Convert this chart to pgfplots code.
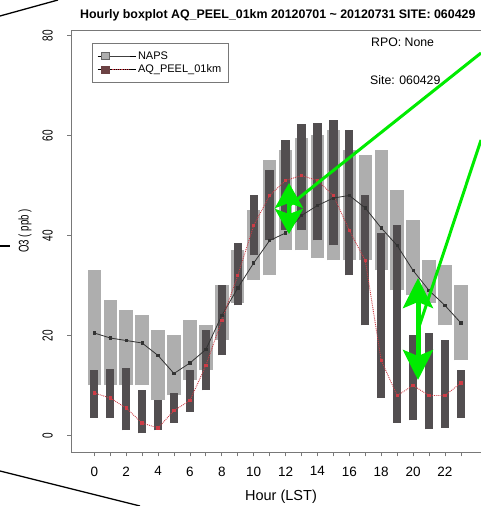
\documentclass[border=0pt]{standalone}
\usepackage{pgfplots}
\pgfplotsset{compat=1.18}
\usepackage{pgfplotstable}
\usepackage{fontspec}
\setmainfont{Liberation Sans}
\newfontfamily\rotfont{Liberation Sans}[FakeStretch=0.69]
\usetikzlibrary{arrows.meta}
\definecolor{boxgray}{RGB}{174,174,174}
\definecolor{boxdark}{RGB}{82,78,80}
\definecolor{medred}{RGB}{205,60,70}
\definecolor{framec}{RGB}{120,120,120}
\definecolor{arrgreen}{RGB}{0,235,0}

\pgfplotstableread{
h lo hi med
0 10 33 20.5
1 10 27 19.5
2 10 25 19
3 10 24 18.5
4 7 21 16
5 8 20 12.4
6 11 23 14.5
7 13 22 17.2
8 19 30 24
9 26.5 37 29.5
10 31 45 34.5
11 32 55 39
12 37 57 40.5
13 37 59.5 44
14 35.5 60 46
15 35 61 47.5
16 35 57 48
17 35 56 45.5
18 33 57 41.5
19 29 49 38
20 28 43 33
21 26.5 35 29
22 22 34 26
23 15 30 22.5
}\naps

\pgfplotstableread{
h lo hi med
0 3.5 13 8.5
1 3.5 13.3 7.5
2 1 13.5 5.5
3 0.4 9 2.5
4 1 7 1.5
5 2.5 8.5 5
6 4.7 13 7
7 9 21 14
8 16 30 23
9 26 38.5 32
10 36 48 42
11 39 53 48
12 41 59 51
13 41 62.3 52
14 39 62.4 51
15 38 63 48
16 32 61 41
17 22 48 35
18 7.5 40.5 15
19 2.5 42 8
20 3 20 10
21 1.2 20.5 8
22 1.5 19 8
23 3.5 13 10.5
}\model

\begin{document}
\begin{tikzpicture}[x=1pt,y=1pt]
\clip (0,0) rectangle (481,506);
\path[use as bounding box] (0,0) rectangle (481,506);
\begin{axis}[
  at={(71pt,53.5pt)}, anchor=south west,
  scale only axis, width=413.2pt, height=422.5pt,
  xmin=-1.46, xmax=24.46, ymin=-3.4, ymax=81.1,
  axis line style={framec, line width=0.8pt},
  tick pos=left, tick align=outside, major tick length=4pt,
  tick style={framec, line width=0.8pt},
  xtick={0,...,23},
  xticklabels={0,,2,,4,,6,,8,,10,,12,,14,,16,,18,,20,,22,},
  ytick={0,20,40,60,80}, yticklabels={0,20,40,60,80},
  xticklabel style={font=\fontsize{13.5}{14}\selectfont, inner sep=0pt, yshift=-10pt},
  yticklabel style={font=\rotfont\fontsize{14.5}{14}\selectfont, inner sep=0pt, xshift=-14pt, rotate=90, anchor=south},
  legend style={at={(axis description cs:0.0508,0.969)}, anchor=north west,
    draw=framec, line width=0.7pt, font=\fontsize{11}{12}\selectfont,
    inner xsep=5pt, inner ysep=6pt, row sep=0pt},
  legend cell align=left,
]
\addplot[forget plot, boxgray, line width=13.4pt, -,
  quiver={u=0, v=\thisrow{hi}-\thisrow{lo}}] table[x=h, y=lo]{\naps};
\addplot[forget plot, boxdark, line width=8.3pt, -,
  quiver={u=0, v=\thisrow{hi}-\thisrow{lo}}] table[x=h, y=lo]{\model};
\addplot[forget plot, black!80, line width=0.8pt, mark=square*, mark size=1.2pt] table[x=h, y=med]{\naps};
\addplot[forget plot, medred, densely dotted, line width=0.9pt, mark=square*, mark size=1.2pt, mark options={solid}] table[x=h, y=med]{\model};
\addlegendimage{legend image code/.code={
  \path (0pt,0pt) -- (38pt,0pt);
  \fill[boxgray, draw=black!60, line width=0.5pt] (4pt,-3.5pt) rectangle (12pt,3.5pt);
  \draw[black!75, line width=0.8pt] (12pt,0pt) -- (32pt,0pt);}}
\addlegendentry{NAPS}
\addlegendimage{legend image code/.code={
  \path (0pt,0pt) -- (38pt,0pt);
  \fill[boxdark!85!red] (4pt,-3.5pt) rectangle (12pt,3.5pt);
  \draw[medred, densely dotted, line width=0.8pt] (14pt,0pt) -- (32pt,0pt);}}
\addlegendentry{AQ\_PEEL\_01km}
\end{axis}
\node[anchor=west, font=\bfseries\fontsize{12.4}{13}\selectfont, inner sep=0pt] at (80,491) {Hourly boxplot AQ\_PEEL\_01km 20120701 \textasciitilde{} 20120731 SITE: 060429};
\node[anchor=west, font=\fontsize{12.3}{13}\selectfont, inner sep=0pt] at (371,464) {RPO: None};
\node[anchor=west, font=\fontsize{12.3}{13}\selectfont, inner sep=0pt] at (370,426) {Site: 060429};
\node[font=\fontsize{14.5}{15}\selectfont, inner sep=0pt] at (281,9) {Hour (LST)};
\node[rotate=90, font=\rotfont\fontsize{14}{14}\selectfont, inner sep=0pt] at (25,275) {O3 ( ppb )};
\draw[arrgreen, line width=3pt] (481,453) -- (290,301);
\draw[arrgreen, line width=3pt] (481,366) -- (418,176);
\draw[arrgreen, line width=4pt, {Stealth[length=25pt,width=28pt,inset=5pt]}-{Stealth[length=25pt,width=28pt,inset=5pt]}] (289,323) -- (289,272);
\draw[arrgreen, line width=5pt, {Stealth[length=30pt,width=30pt,inset=6pt]}-{Stealth[length=30pt,width=30pt,inset=6pt]}] (418,228) -- (418,126);
\draw[black, line width=1.3pt] (0,490) -- (58,506);
\draw[black, line width=1.3pt] (0,35) -- (140,0);
\draw[black, line width=1.3pt] (0,260) -- (10,260);
\end{tikzpicture}
\end{document}
